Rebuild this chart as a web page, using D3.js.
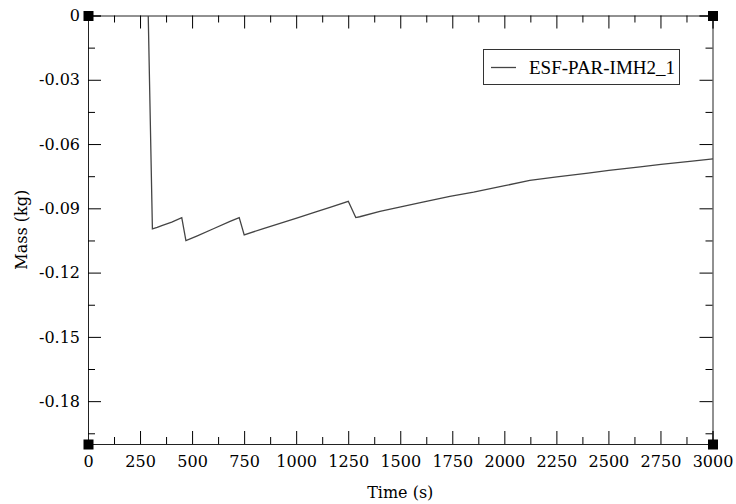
<!DOCTYPE html>
<html>
<head>
<meta charset="utf-8">
<script src="https://cdn.jsdelivr.net/npm/d3@7"></script>
<style>
  body { margin: 0; background: #fff; }
  svg { display: block; }
  .tick text { font-family: 'DejaVu Serif', serif; font-size: 16px; fill: #000; }
</style>
</head>
<body>
<script>
const width = 736;
const height = 504;

// data
const timeValues = [287, 307, 330, 352, 400, 448, 468, 520, 600, 680, 724, 748, 840, 920, 1000, 1096, 1160, 1248,
    1284, 1303, 1400, 1500, 1600, 1736, 1850, 2000, 2120, 2250, 2400, 2500, 2650, 2750, 2900, 3000];
const massValues = [0, -0.0994, -0.0987, -0.0978, -0.0962, -0.0941, -0.1048, -0.1027, -0.0993, -0.0959, -0.0941, -0.1022, -0.0992, -0.0968, -0.0943, -0.0913, -0.0893, -0.0865,
    -0.0941, -0.0937, -0.0912, -0.0891, -0.0870, -0.0842, -0.0822, -0.0792, -0.0767, -0.0751, -0.0733, -0.0721, -0.0704, -0.0693, -0.0677, -0.0667];
const seriesName = 'ESF-PAR-IMH2_1';

const xTicks = [0, 250, 500, 750, 1000, 1250, 1500, 1750, 2000, 2250, 2500, 2750, 3000];
const xMinorTicks = [125, 375, 625, 875, 1125, 1375, 1625, 1875, 2125, 2375, 2625, 2875];
const yTicks = [0, -0.03, -0.06, -0.09, -0.12, -0.15, -0.18];
const yMinorTicks = [-0.015, -0.045, -0.075, -0.105, -0.135, -0.165, -0.195];

const data = timeValues.map((t, i) => ({ t: t, m: massValues[i] }));

const svg = d3.select('body').append('svg').attr('width', width).attr('height', height);

const x = d3.scaleLinear().domain([0, 3000]).range([88, 712.5]);
const y = d3.scaleLinear().domain([-0.2, 0]).range([444, 15.5]);

const xFormat = d => String(d);
const yFormat = d => d === 0 ? '0' : d.toFixed(2);

// bottom axis, ticks point inward
svg.append('g').attr('transform', `translate(0,${y(-0.2)})`)
    .call(d3.axisBottom(x).tickValues(xTicks).tickSize(-13).tickPadding(12).tickFormat(xFormat));
svg.append('g').attr('transform', `translate(0,${y(-0.2)})`)
    .call(d3.axisBottom(x).tickValues(xMinorTicks).tickSize(-7).tickFormat(''))
    .call(g => g.select('.domain').remove());

// top axis
svg.append('g').attr('transform', `translate(0,${y(0)})`)
    .call(d3.axisTop(x).tickValues(xTicks).tickSize(-13).tickFormat(''));
svg.append('g').attr('transform', `translate(0,${y(0)})`)
    .call(d3.axisTop(x).tickValues(xMinorTicks).tickSize(-7).tickFormat(''))
    .call(g => g.select('.domain').remove());

// left axis
svg.append('g').attr('transform', `translate(${x(0)},0)`)
    .call(d3.axisLeft(y).tickValues(yTicks).tickSize(-13).tickPadding(8).tickFormat(yFormat));
svg.append('g').attr('transform', `translate(${x(0)},0)`)
    .call(d3.axisLeft(y).tickValues(yMinorTicks).tickSize(-7).tickFormat(''))
    .call(g => g.select('.domain').remove());

// right axis
svg.append('g').attr('transform', `translate(${x(3000)},0)`)
    .call(d3.axisRight(y).tickValues(yTicks).tickSize(-13).tickFormat(''));
svg.append('g').attr('transform', `translate(${x(3000)},0)`)
    .call(d3.axisRight(y).tickValues(yMinorTicks).tickSize(-7).tickFormat(''))
    .call(g => g.select('.domain').remove());

svg.selectAll('.domain').attr('stroke', '#222');

// the data line
const line = d3.line().x(d => x(d.t) + 0.5).y(d => y(d.m) + 0.5);
svg.append('path')
    .datum(data)
    .attr('fill', 'none')
    .attr('stroke', '#444')
    .attr('stroke-width', 1.3)
    .attr('d', line);

// black squares on the corners
const corners = [[0, 0], [3000, 0], [0, -0.2], [3000, -0.2]];
svg.selectAll('.corner')
    .data(corners)
    .enter()
    .append('rect')
    .attr('class', 'corner')
    .attr('x', d => x(d[0]) + 0.5 - 5)
    .attr('y', d => y(d[1]) + 0.5 - 5)
    .attr('width', 10)
    .attr('height', 10)
    .attr('fill', '#000');

// axis titles
svg.append('text')
    .attr('x', (x(0) + x(3000)) / 2)
    .attr('y', 498)
    .attr('text-anchor', 'middle')
    .style('font-family', "'DejaVu Serif', serif")
    .style('font-size', '16px')
    .text('Time (s)');

svg.append('text')
    .attr('transform', `translate(27,${(y(0) + y(-0.2)) / 2}) rotate(-90)`)
    .attr('text-anchor', 'middle')
    .style('font-family', "'DejaVu Serif', serif")
    .style('font-size', '16px')
    .text('Mass (kg)');

// legend
const legend = svg.append('g');
legend.append('rect')
    .attr('x', 483.5).attr('y', 49.5)
    .attr('width', 196).attr('height', 35)
    .attr('fill', '#fff')
    .attr('stroke', '#333');
legend.append('line')
    .attr('x1', 491).attr('x2', 516)
    .attr('y1', 67.5).attr('y2', 67.5)
    .attr('stroke', '#444')
    .attr('stroke-width', 1.3);
legend.append('text')
    .attr('x', 529)
    .attr('y', 74)
    .style('font-family', "'Liberation Serif', serif")
    .style('font-size', '19px')
    .text(seriesName);
</script>
</body>
</html>
